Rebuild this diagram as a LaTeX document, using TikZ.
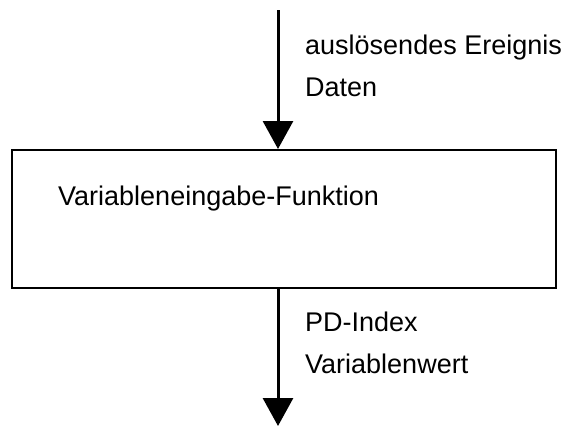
\documentclass[tikz,border=0pt]{standalone}
\usepackage{fontspec}
\setmainfont{Liberation Sans}
\usetikzlibrary{arrows.meta}
\begin{document}
\begin{tikzpicture}[x=1pt,y=-1pt,
  lbl/.style={anchor=base west,inner sep=0pt,font=\fontsize{27}{32}\selectfont},
  flow/.style={line width=3pt,-{Triangle[length=28pt,width=30pt]}},
  funcbox/.style={draw,line width=2pt,rectangle,inner sep=0pt}]
\useasboundingbox (0,0) rectangle (572,426);
\node[funcbox,minimum width=544pt,minimum height=138pt] (box) at (284,219) {};
\coordinate (top) at (278,10);
\coordinate (bot) at (278,426);
\draw[flow] (top) -- (top |- box.north);
\draw[flow] (bot |- box.south) -- (bot);
\node[lbl] (t1) at (305,54) {auslösendes Ereignis};
\node[lbl] (t2) at (305,96) {Daten};
\node[lbl] (t3) at (58,205) {Variableneingabe-Funktion};
\node[lbl] (t4) at (305,331.5) {PD-Index};
\node[lbl] (t5) at (305,373) {Variablenwert};
\end{tikzpicture}
\end{document}
